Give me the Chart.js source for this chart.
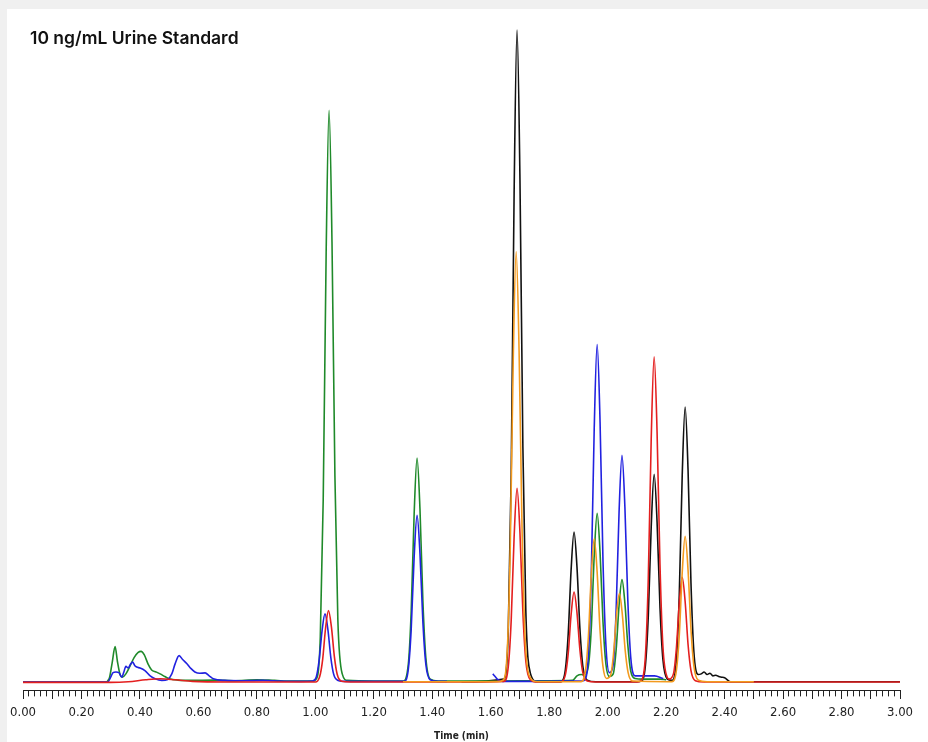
<!DOCTYPE html>
<html lang="en">
<head>
    <meta charset="UTF-8">
    <title>10 ng/mL Urine Standard</title>
    <script src="https://cdn.jsdelivr.net/npm/chart.js"></script>
    <style>
        html, body { margin: 0; padding: 0; background: #f0f0f0; }
        #frame { position: absolute; left: 7px; top: 9px; width: 921px; height: 733px; background: #fff; }
        #chart { position: absolute; left: 0; top: 0; }
        #title {
            position: absolute; left: 30px; top: 30px;
            font-family: Inter, Roboto, "Noto Sans", sans-serif;
            font-weight: 600; font-size: 17.5px; line-height: 16px; color: #111;
        }
    </style>
</head>
<body>
    <div id="frame"></div>
    <canvas id="chart" width="928" height="742"></canvas>
    <div id="title">10 ng/mL Urine Standard</div>
    <script>
        // retention time (min), relative intensity (%)
        const greenTrace = [
            [0.00, 0.05], [0.28, 0.05], [0.295, 0.6], [0.305, 3.0], [0.315, 5.5], [0.323, 3.2], [0.332, 1.2],
            [0.340, 0.8], [0.352, 1.3], [0.365, 2.4], [0.380, 3.8], [0.394, 4.6], [0.404, 4.75], [0.415, 4.2],
            [0.428, 2.8], [0.440, 1.9], [0.455, 1.6], [0.469, 1.3], [0.485, 0.9], [0.50, 0.55], [0.53, 0.35],
            [0.58, 0.3], [0.65, 0.35], [0.72, 0.25], [0.80, 0.4], [0.86, 0.3], [0.92, 0.2], [0.99, 0.2],
            [1.002, 0.45], [1.017, 7.0], [1.027, 28.1], [1.037, 65.8], [1.047, 87.7], [1.057, 67.5],
            [1.067, 31.6], [1.077, 9.6], [1.092, 1.3], [1.11, 0.3], [1.20, 0.2], [1.30, 0.2],
            [1.318, 2.75], [1.328, 11.0], [1.338, 25.8], [1.348, 34.4], [1.358, 26.5], [1.368, 12.4],
            [1.378, 3.8], [1.393, 0.5], [1.42, 0.2], [1.60, 0.2], [1.80, 0.25], [1.88, 0.3], [1.895, 1.0],
            [1.91, 1.2], [1.919, 1.1], [1.934, 2.5], [1.944, 8.3], [1.954, 19.4], [1.964, 25.9], [1.974, 19.9],
            [1.984, 9.3], [1.994, 2.8], [2.006, 0.9], [2.019, 1.3], [2.029, 5.0], [2.039, 11.8], [2.049, 15.75],
            [2.059, 12.1], [2.069, 5.7], [2.079, 1.7], [2.094, 0.6], [2.12, 0.5], [2.18, 0.5], [2.20, 0.4]
        ];
        const blueTrace = [
            [0.00, 0.05], [0.29, 0.05], [0.300, 0.8], [0.308, 1.5], [0.318, 1.6], [0.328, 1.5], [0.338, 0.8],
            [0.345, 1.6], [0.352, 2.45], [0.360, 2.2], [0.368, 2.8], [0.375, 3.1], [0.382, 2.6], [0.389, 2.35],
            [0.400, 2.2], [0.417, 1.8], [0.435, 1.0], [0.452, 0.55], [0.475, 0.3], [0.495, 0.45], [0.509, 1.3],
            [0.520, 2.8], [0.534, 4.1], [0.546, 3.5], [0.560, 2.9], [0.575, 2.1], [0.588, 1.6], [0.605, 1.4],
            [0.623, 1.45], [0.637, 1.0], [0.651, 0.55], [0.69, 0.3], [0.75, 0.25], [0.82, 0.3], [0.88, 0.2],
            [0.95, 0.15], [0.99, 0.2], [1.003, 0.8], [1.013, 3.4], [1.023, 7.9], [1.033, 10.5], [1.043, 8.1],
            [1.053, 3.8], [1.063, 1.2], [1.078, 0.3], [1.10, 0.15], [1.20, 0.15], [1.303, 0.15], [1.318, 2.0],
            [1.328, 8.2], [1.338, 19.2], [1.348, 25.6], [1.358, 19.7], [1.368, 9.2], [1.378, 2.8], [1.393, 0.4],
            [1.42, 0.15], [1.45, 0.15], [1.46, null],
            [1.607, 1.3], [1.615, 0.9], [1.625, 0.4], [1.64, 0.15], [1.75, 0.15], [1.85, 0.2], [1.90, 0.2],
            [1.919, 0.3], [1.934, 4.1], [1.944, 16.6], [1.954, 38.9], [1.964, 51.8], [1.974, 39.9], [1.984, 18.6],
            [1.994, 5.7], [2.006, 1.5], [2.019, 2.8], [2.029, 11.1], [2.039, 26.1], [2.049, 34.8], [2.059, 26.8],
            [2.069, 12.5], [2.079, 3.8], [2.094, 1.0], [2.12, 1.0], [2.16, 1.0], [2.19, 0.6]
        ];
        const redTrace = [
            [0.00, 0], [0.30, 0], [0.36, 0.1], [0.42, 0.4], [0.47, 0.55], [0.52, 0.4], [0.58, 0.15], [0.70, 0.05],
            [1.000, 0.05], [1.015, 0.9], [1.025, 3.5], [1.035, 8.3], [1.045, 11.0], [1.055, 8.5], [1.065, 4.0],
            [1.075, 1.2], [1.090, 0.16], [1.12, 0.05], [1.50, 0.05], [1.645, 0.15], [1.660, 2.4], [1.670, 9.5],
            [1.680, 22.3], [1.690, 29.75], [1.700, 22.9], [1.710, 10.7], [1.720, 3.3], [1.735, 0.45], [1.76, 0.05],
            [1.840, 0.07], [1.855, 1.1], [1.865, 4.4], [1.875, 10.4], [1.885, 13.85], [1.895, 10.7], [1.905, 5.0],
            [1.915, 1.5], [1.930, 0.2], [1.96, 0.05], [2.10, 0.05], [2.114, 0.25], [2.129, 4.0], [2.139, 16.0],
            [2.149, 37.4], [2.159, 49.9], [2.169, 38.4], [2.179, 18.0], [2.189, 5.5], [2.204, 0.75], [2.210, 0.5],
            [2.225, 1.3], [2.235, 5.2], [2.245, 12.1], [2.255, 16.1], [2.265, 12.4], [2.275, 5.8], [2.285, 1.8],
            [2.300, 0.25], [2.33, 0.05], [3.00, 0.05]
        ];
        const blackTrace = [
            [1.50, 0.1], [1.645, 0.5], [1.660, 8.0], [1.670, 32.0], [1.680, 75.0], [1.690, 100.0], [1.700, 77.0],
            [1.710, 36.0], [1.720, 11.0], [1.735, 1.5], [1.76, 0.1], [1.840, 0.12], [1.855, 1.85], [1.865, 7.4],
            [1.875, 17.3], [1.885, 23.05], [1.895, 17.7], [1.905, 8.3], [1.915, 2.5], [1.930, 0.35], [1.96, 0.1],
            [2.10, 0.1], [2.114, 0.16], [2.129, 2.55], [2.139, 10.2], [2.149, 23.9], [2.159, 31.9], [2.169, 24.6],
            [2.179, 11.5], [2.189, 3.5], [2.204, 0.5], [2.220, 0.3], [2.235, 3.4], [2.245, 13.5], [2.255, 31.7],
            [2.265, 42.2], [2.275, 32.5], [2.285, 15.2], [2.295, 4.6], [2.310, 1.2], [2.32, 1.3], [2.33, 1.6],
            [2.34, 1.2], [2.35, 1.4], [2.36, 1.0], [2.37, 1.1], [2.38, 0.9], [2.39, 0.8], [2.40, 0.7], [2.42, 0.1],
            [3.00, 0.1]
        ];
        const orangeTrace = [
            [1.30, 0.1], [1.62, 0.1], [1.642, 0.33], [1.657, 5.3], [1.667, 21.1], [1.677, 49.5], [1.687, 66.0],
            [1.697, 50.8], [1.707, 23.8], [1.717, 7.3], [1.732, 1.0], [1.76, 0.1], [1.88, 0.1], [1.909, 0.11],
            [1.924, 1.76], [1.934, 7.0], [1.944, 16.5], [1.954, 22.0], [1.964, 16.9], [1.974, 7.9], [1.984, 2.4],
            [1.996, 0.6], [2.010, 1.1], [2.020, 4.35], [2.030, 10.2], [2.040, 13.6], [2.050, 10.5], [2.060, 4.9],
            [2.070, 1.5], [2.085, 0.2], [2.21, 0.1], [2.220, 0.11], [2.235, 1.8], [2.245, 7.2], [2.255, 16.8],
            [2.265, 22.4], [2.275, 17.2], [2.285, 8.1], [2.295, 2.5], [2.310, 0.34], [2.34, 0.1], [2.50, 0.1]
        ];

        const timeMin = 0, timeMax = 3;
        const yMin = -1.23, yMax = 101.53;

        function trace(data, color) {
            return {
                data: data,
                borderColor: color,
                borderWidth: 1.6,
                pointRadius: 0,
                fill: false,
                spanGaps: false,
                cubicInterpolationMode: 'monotone'
            };
        }

        const axisFont = { family: '"Liberation Sans Narrow", "DejaVu Sans Condensed", sans-serif', size: 13 };

        new Chart(document.getElementById('chart').getContext('2d'), {
            type: 'line',
            data: {
                datasets: [
                    trace(orangeTrace, '#f39a1e'),
                    trace(redTrace, '#e41f1f'),
                    trace(blueTrace, '#2121e0'),
                    trace(greenTrace, '#1f8a2a'),
                    trace(blackTrace, '#111111')
                ]
            },
            options: {
                responsive: false,
                animation: false,
                layout: { padding: { left: 23, right: 28, top: 20, bottom: 0 } },
                plugins: { legend: { display: false }, tooltip: { enabled: false } },
                scales: {
                    x: {
                        type: 'linear', min: timeMin, max: timeMax,
                        border: { color: '#222', width: 1 },
                        grid: { drawOnChartArea: false, tickLength: 6, color: '#222' },
                        ticks: {
                            stepSize: 0.02, autoSkip: false, maxRotation: 0, padding: 8,
                            color: '#222', font: axisFont,
                            callback: v => (Math.round(v * 50) % 10 === 0) ? v.toFixed(2) : ''
                        },
                        title: {
                            display: true, text: 'Time (min)', color: '#222',
                            font: { family: axisFont.family, size: 10, weight: 'bold' },
                            padding: { top: 2, bottom: 0 }
                        }
                    },
                    xMajor: {
                        type: 'linear', min: timeMin, max: timeMax, position: { y: yMin },
                        border: { display: false },
                        grid: { drawOnChartArea: false, tickLength: 9, color: '#222' },
                        ticks: { stepSize: 0.1, display: false, autoSkip: false }
                    },
                    y: { display: false, min: yMin, max: yMax }
                }
            }
        });
    </script>
</body>
</html>
